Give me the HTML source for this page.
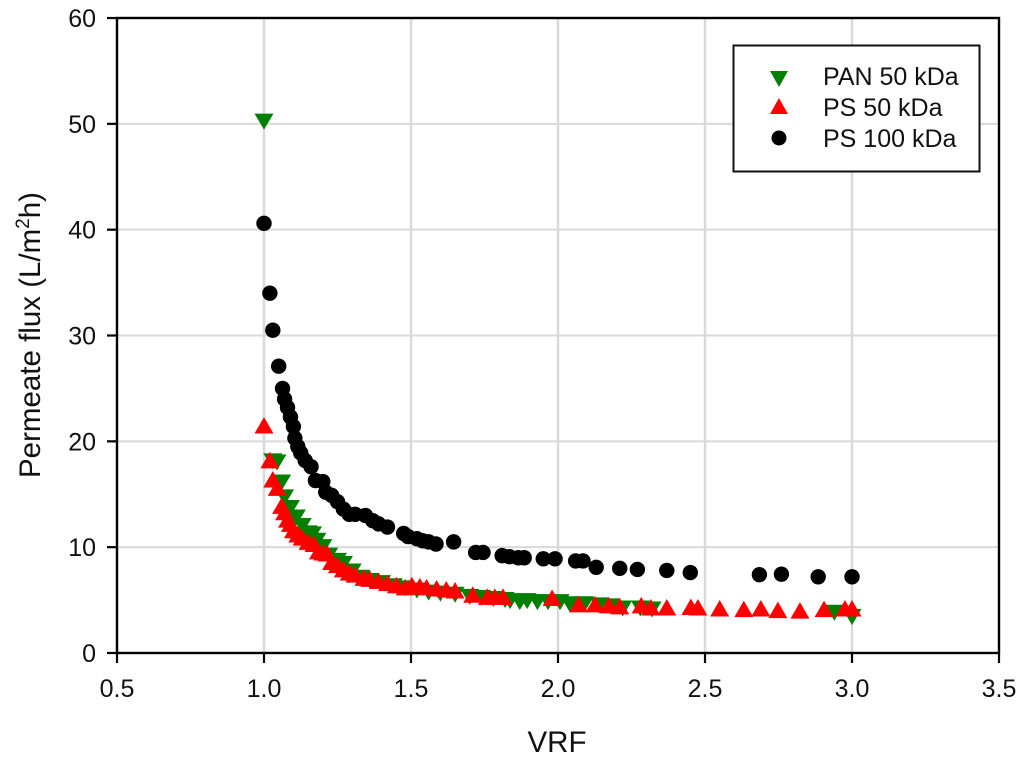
<!DOCTYPE html>
<html lang="en">
<head>
<meta charset="utf-8">
<title>Permeate flux vs VRF</title>
<style>
html,body{margin:0;padding:0;background:#fff;}
svg{display:block;}
text{font-family:"Liberation Sans",Arial,sans-serif;fill:#111;}
</style>
</head>
<body>
<svg id="chart" width="1024" height="766" viewBox="0 0 1024 766" xmlns="http://www.w3.org/2000/svg">
  <rect width="1024" height="766" fill="#fff"/>
  <g id="grid"></g>
  <g id="axes"></g>
  <g id="pan"></g>
  <g id="ps50"></g>
  <g id="ps100"></g>
  <text x="557" y="752" font-size="29.5" text-anchor="middle">VRF</text>
  <text transform="translate(40,335) rotate(-90)" font-size="29.5" text-anchor="middle">Permeate flux (L/m<tspan dy="-11" font-size="19">2</tspan><tspan dy="11">h)</tspan></text>
  <g>
    <rect x="733.5" y="45.5" width="246" height="126" fill="#fff" stroke="#111" stroke-width="2"/>
    <polygon points="770,71 788,71 779,87" fill="#008000"/>
    <polygon points="770,114 788,114 779,98" fill="#ff0000"/>
    <circle cx="779" cy="138" r="7.5" fill="#000"/>
    <text x="823" y="85" font-size="25">PAN 50 kDa</text>
    <text x="823" y="116" font-size="25">PS 50 kDa</text>
    <text x="823" y="147" font-size="25">PS 100 kDa</text>
  </g>
</svg>
<script>
const xTicks = [0.5, 1.0, 1.5, 2.0, 2.5, 3.0, 3.5];
const yTicks = [0, 10, 20, 30, 40, 50, 60];

const panX = [1.0,1.03,1.044,1.06,1.07,1.09,1.11,1.13,1.15,1.165,1.18,1.2,1.22,1.25,1.27,1.3,1.33,1.36,1.4,1.44,1.48,1.52,1.56,1.6,1.65,1.7,1.74,1.78,1.82,1.837,1.87,1.895,1.93,1.966,2.007,2.04,2.09,2.14,2.18,2.22,2.28,2.32,2.94,3.0];
const panY = [50.3,18.2,18.1,16.2,14.8,13.8,12.9,12.1,11.4,11.3,10.7,10.1,9.3,8.8,8.5,7.8,7.2,6.9,6.7,6.4,6.2,6.0,5.8,5.7,5.6,5.4,5.3,5.2,5.1,5.0,4.9,5.0,4.9,4.9,4.9,4.7,4.7,4.6,4.5,4.3,4.3,4.2,3.9,3.5];

const ps50X = [1.0,1.02,1.03,1.045,1.06,1.07,1.08,1.09,1.1,1.115,1.13,1.15,1.17,1.185,1.2,1.215,1.23,1.25,1.27,1.29,1.31,1.34,1.36,1.39,1.42,1.45,1.48,1.503,1.53,1.553,1.587,1.62,1.65,1.71,1.76,1.785,1.813,1.98,2.07,2.126,2.173,2.21,2.283,2.316,2.37,2.452,2.476,2.55,2.632,2.69,2.748,2.823,2.905,2.976,3.0];
const ps50Y = [21.5,18.2,16.4,15.6,13.9,13.3,12.6,12.2,11.6,11.2,10.9,10.5,10.3,9.6,9.5,9.4,8.6,8.3,7.9,7.6,7.4,7.1,7.0,6.8,6.6,6.4,6.2,6.4,6.3,6.2,6.1,6.0,5.9,5.5,5.3,5.3,5.3,5.2,4.6,4.6,4.5,4.4,4.5,4.3,4.3,4.35,4.3,4.2,4.15,4.2,4.05,4.0,4.15,4.2,4.2];

const ps100X = [1.0,1.02,1.03,1.05,1.063,1.07,1.08,1.09,1.1,1.105,1.115,1.125,1.14,1.16,1.175,1.2,1.21,1.23,1.25,1.27,1.29,1.31,1.345,1.37,1.39,1.42,1.475,1.49,1.52,1.54,1.56,1.585,1.645,1.72,1.745,1.81,1.835,1.865,1.885,1.95,1.99,2.06,2.085,2.13,2.21,2.27,2.37,2.45,2.685,2.76,2.885,3.0];
const ps100Y = [40.6,34.0,30.5,27.1,25.0,24.0,23.2,22.3,21.4,20.3,19.5,18.9,18.2,17.6,16.3,16.2,15.2,14.9,14.3,13.6,13.1,13.1,13.0,12.5,12.2,11.9,11.3,11.0,10.8,10.6,10.5,10.3,10.5,9.5,9.5,9.2,9.1,9.0,9.0,8.9,8.9,8.7,8.7,8.1,8.0,7.9,7.8,7.6,7.4,7.45,7.2,7.2];

const NS = 'http://www.w3.org/2000/svg';
function xScale(v) { return 117 + (v - 0.5) * 294; }
function yScale(v) { return 653 - v * 10.583; }

function make(parent, tag, attrs, text) {
  const el = document.createElementNS(NS, tag);
  for (const k in attrs) el.setAttribute(k, attrs[k]);
  if (text !== undefined) el.textContent = text;
  document.getElementById(parent).appendChild(el);
  return el;
}

xTicks.forEach(function (t) {
  const x = xScale(t);
  if (t > 0.5 && t < 3.5) {
    const g = make('grid', 'line', {x1: x, x2: x, y1: 18, y2: 653, stroke: '#d9d9d9', 'stroke-width': 2.5});
    
    
  }
  const tick = make('axes', 'line', {x1: x, x2: x, y1: 653, y2: 663, stroke: '#000', 'stroke-width': 2.2});
  
  
  const label = make('axes', 'text', {x: x, y: 697, 'font-size': 25, 'text-anchor': 'middle'}, t.toFixed(1));
  
  
});

yTicks.forEach(function (t) {
  const y = yScale(t);
  if (t > 0 && t < 60) {
    const g = make('grid', 'line', {x1: 117, x2: 999, y1: y, y2: y, stroke: '#d9d9d9', 'stroke-width': 2});
    
    
  }
  const tick = make('axes', 'line', {x1: 107, x2: 117, y1: y, y2: y, stroke: '#000', 'stroke-width': 2.2});
  
  
  const label = make('axes', 'text', {x: 96, y: y + 9, 'font-size': 25, 'text-anchor': 'end'}, String(t));
  
  
});

const frame = make('axes', 'rect', {x: 117, y: 18, width: 882, height: 635, fill: 'none', stroke: '#000', 'stroke-width': 2.4});



panX.forEach(function (v, i) {
  const x = xScale(v), y = yScale(panY[i]);
  const m = make('pan', 'polygon', {points: (x - 9.5) + ',' + (y - 7) + ' ' + (x + 9.5) + ',' + (y - 7) + ' ' + x + ',' + (y + 9), fill: '#008000'});
  
  
});

ps50X.forEach(function (v, i) {
  const x = xScale(v), y = yScale(ps50Y[i]);
  const m = make('ps50', 'polygon', {points: (x - 9.5) + ',' + (y + 8) + ' ' + (x + 9.5) + ',' + (y + 8) + ' ' + x + ',' + (y - 8.5), fill: '#ff0000'});
  
  
});

ps100X.forEach(function (v, i) {
  const m = make('ps100', 'circle', {cx: xScale(v), cy: yScale(ps100Y[i]), r: 7.7, fill: '#000'});
  
  
});
</script>
</body>
</html>
